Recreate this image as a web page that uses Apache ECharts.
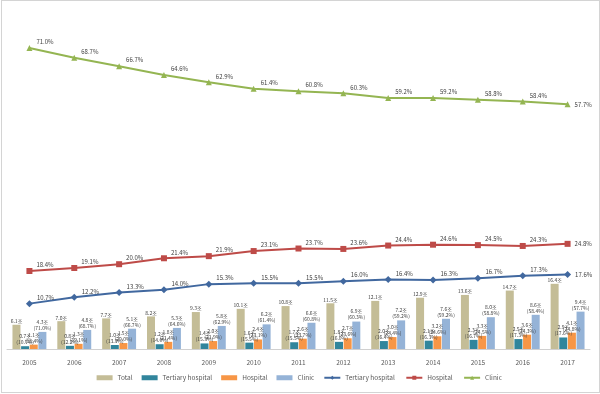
<!DOCTYPE html>
<html>
<head>
<meta charset="utf-8">
<script src="https://cdn.jsdelivr.net/npm/echarts@6/dist/echarts.min.js"></script>
<style>
html,body{margin:0;padding:0;background:#fff;}
#wrap{position:relative;width:600px;height:394px;}
#chart{width:600px;height:394px;}
#frame{position:absolute;left:1px;top:0px;width:597px;height:391px;border:1px solid #d4d4d4;pointer-events:none;}
</style>
</head>
<body>
<div id="wrap"><div id="chart"></div><div id="frame"></div></div>
<script>
const years = ['2005','2006','2007','2008','2009','2010','2011','2012','2013','2014','2015','2016','2017'];
const totalVals = [6.1,7.0,7.7,8.2,9.3,10.1,10.8,11.5,12.1,12.9,13.6,14.7,16.4];
const tertiaryVals = [0.7,0.8,1.0,1.2,1.4,1.6,1.7,1.8,2.0,2.1,2.3,2.5,2.9];
const hospitalVals = [1.1,1.3,1.5,1.8,2.0,2.4,2.6,2.7,3.0,3.2,3.3,3.6,4.1];
const clinicVals = [4.3,4.8,5.1,5.3,5.8,6.2,6.6,6.9,7.2,7.6,8.0,8.6,9.4];
const tertiaryPct = [10.7,12.2,13.3,14.0,15.3,15.5,15.5,16.0,16.4,16.3,16.7,17.3,17.6];
const hospitalPct = [18.4,19.1,20.0,21.4,21.9,23.1,23.7,23.6,24.4,24.6,24.5,24.3,24.8];
const clinicPct = [71.0,68.7,66.7,64.6,62.9,61.4,60.8,60.3,59.2,59.2,58.8,58.4,57.7];

const FONT = "'Noto Sans CJK KR', 'Noto Sans', sans-serif";
const chart = echarts.init(document.getElementById('chart'), null, {renderer:'canvas'});

function barLabel(vals, pcts){
  return {
    show:true, position:'top', distance:1, fontSize:5, lineHeight:6, color:'#404040', fontFamily:FONT,
    formatter: p => vals[p.dataIndex].toFixed(1)+'조\n('+pcts[p.dataIndex].toFixed(1)+'%)'
  };
}
function lineData(arr){
  return arr.map((v,i)=> i===arr.length-1 ? {value:v, label:{offset:[0,0]}} : v);
}
function lineSeries(name, arr, color, symbol){
  return {
    name, type:'line', yAxisIndex:1, data:lineData(arr),
    symbol, symbolSize: symbol==='diamond'?7:6,
    lineStyle:{color, width:2}, itemStyle:{color},
    label:{show:true, position:'right', distance:4, offset:[0,-6], fontSize:6, color:'#404040', fontFamily:FONT,
      formatter: p => (typeof p.value==='number'?p.value:p.value).toFixed(1)+'%'},
    z:5
  };
}

chart.setOption({
  animation:false,
  textStyle:{fontFamily:FONT},
  grid:{left:7, right:10, top:31, bottom:45},
  legend:{
    bottom:8, left:'center', itemWidth:16, itemHeight:5, itemGap:9,
    textStyle:{fontSize:6.5, color:'#595959', fontFamily:FONT},
    data:[
      {name:'Total', icon:'rect'},
      {name:'Tertiary hospital', icon:'rect'},
      {name:'Hospital', icon:'rect'},
      {name:'Clinic', icon:'rect'},
      {name:'Tertiary hospital '},
      {name:'Hospital '},
      {name:'Clinic '}
    ]
  },
  xAxis:{
    type:'category', data:years,
    axisLine:{show:true, lineStyle:{color:'#d0d0d0', width:1}},
    axisTick:{show:false},
    axisLabel:{fontSize:6.5, color:'#595959', margin:10, fontFamily:FONT}
  },
  yAxis:[
    {type:'value', min:0, max:80, show:false, splitLine:{show:false}},
    {type:'value', min:0, max:75, show:false, splitLine:{show:false}}
  ],
  series:[
    {name:'Total', type:'bar', data:totalVals, barWidth:8, barGap:'8%', itemStyle:{color:'#C4BD97'},
      label:{show:true, position:'top', distance:1, fontSize:5, color:'#404040', fontFamily:FONT,
        formatter: p => totalVals[p.dataIndex].toFixed(1)+'조'}},
    {name:'Tertiary hospital', type:'bar', data:tertiaryVals, barWidth:8, barGap:'8%', itemStyle:{color:'#31859C'},
      label:barLabel(tertiaryVals, tertiaryPct)},
    {name:'Hospital', type:'bar', data:hospitalVals, barWidth:8, barGap:'8%', itemStyle:{color:'#F79646'},
      label:barLabel(hospitalVals, hospitalPct)},
    {name:'Clinic', type:'bar', data:clinicVals, barWidth:8, barGap:'8%', itemStyle:{color:'#95B3D7'},
      label:barLabel(clinicVals, clinicPct)},
    lineSeries('Tertiary hospital ', tertiaryPct, '#41689F', 'diamond'),
    lineSeries('Hospital ', hospitalPct, '#BE4B48', 'rect'),
    lineSeries('Clinic ', clinicPct, '#94B552', 'triangle')
  ]
});
</script>
</body>
</html>
